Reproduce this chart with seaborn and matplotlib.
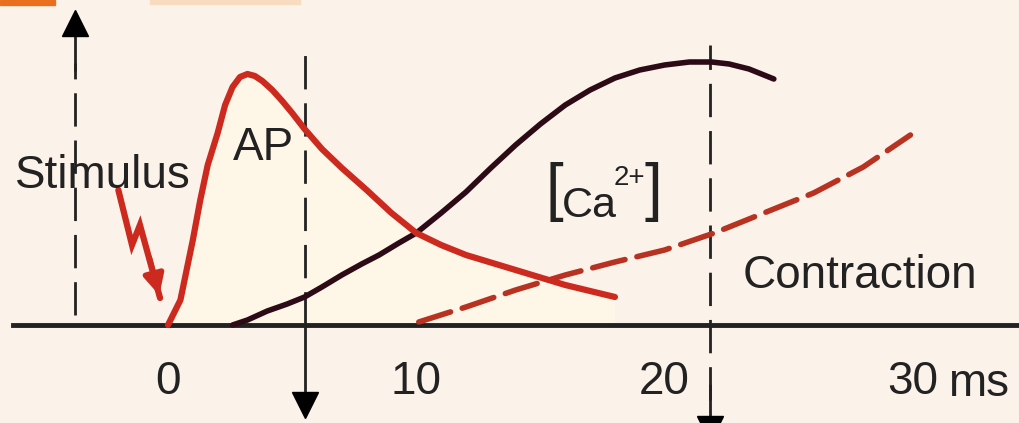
import numpy as np
import pandas as pd
import matplotlib.pyplot as plt
from matplotlib.patches import Rectangle
import seaborn as sns

# curves (time in ms, height in px above the baseline)
ap_t = [0, 0.5, 1.0, 1.3, 1.6, 2.0, 2.3, 2.6, 2.9, 3.2, 3.5, 3.8, 4.2, 4.6, 5.0, 5.5, 6.2, 7.0, 8.0, 9.0,
        10.0, 11.0, 12.0, 14.0, 16.0, 18.0]
ap_y = [0, 25, 85, 125, 160, 192, 220, 238, 248, 251, 249, 244, 235, 224, 212, 196, 176, 157, 135, 112,
        92, 80, 70, 55, 40, 28]

ca_t = [2.6, 3.2, 4.0, 4.8, 5.5, 6.2, 7.0, 7.8, 8.5, 9.3, 10.0, 11.0, 12.0, 13.0, 14.0, 15.0, 16.0, 17.0,
        18.0, 19.0, 20.0, 21.0, 21.9, 22.6, 23.4, 24.4]
ca_y = [0, 5, 14, 21, 28, 38, 50, 61, 70, 82, 92, 112, 133, 157, 180, 201, 220, 235, 247, 255, 260, 263,
        263, 261, 256, 246]

con_t = [10.1, 12.0, 14.0, 16.0, 18.0, 20.0, 22.0, 24.0, 26.0, 28.0, 29.9]
con_y = [3, 18, 35, 50, 63, 75, 92, 112, 132, 158, 190]

bolt_t = [-2.0, -1.45, -1.13, -0.32]
bolt_y = [135, 80, 100, 27]

tick_pos = [0, 10, 20, 30]
tick_labels = ["0", "10", "20", "30"]
marker_t = [-3.75, 5.52, 21.83]

bg = '#fbf2ea'
red = '#cc2a1e'
dark_red = '#b83222'
maroon = '#2c0b16'
ink = '#222222'

sns.set_theme(style='white')
plt.rcParams['font.family'] = ['Liberation Sans Narrow', 'Liberation Sans', 'DejaVu Sans']

fig = plt.figure(figsize=(10.19, 4.23), dpi=100, facecolor=bg)
ax = fig.add_axes([0, 0, 1, 1], facecolor=bg)
ax.set_xlim(-168 / 24.83, (1019 - 168) / 24.83)
ax.set_ylim(-98, 325)

# shading under the action potential
ax.fill_between(ap_t, ap_y, 0, color='#fef6e6', lw=0, zorder=1)

# vertical markers
ax.plot([marker_t[0]] * 2, [10, 262], color=ink, lw=2, dashes=(12, 5), zorder=2)
ax.plot([marker_t[0]] * 2, [255, 295], color=ink, lw=2, zorder=2)
ax.plot(marker_t[0], 302, marker='^', ms=19, color='black', zorder=3)

ax.plot([marker_t[1]] * 2, [0, 280], color=ink, lw=2, dashes=(12, 5), zorder=2)
ax.plot([marker_t[1]] * 2, [0, -75], color=ink, lw=2, zorder=2)
ax.plot(marker_t[1], -80, marker='v', ms=19, color='black', zorder=3)

ax.plot([marker_t[2]] * 2, [-75, 280], color=ink, lw=2, dashes=(12, 5), zorder=2)
ax.plot([marker_t[2]] * 2, [-60, -92], color=ink, lw=2, zorder=2)
ax.plot(marker_t[2], -104, marker='v', ms=19, color='black', zorder=3, clip_on=False)

# curves
sns.lineplot(x=ap_t, y=ap_y, ax=ax, color=red, lw=4.5, zorder=5, solid_capstyle='round')
sns.lineplot(x=ca_t, y=ca_y, ax=ax, color=maroon, lw=4, zorder=4, solid_capstyle='round')
sns.lineplot(x=con_t, y=con_y, ax=ax, color=dark_red, lw=4, zorder=4)
ax.lines[-1].set_dashes([6, 2.2])
ax.lines[-1].set_dash_capstyle('round')

# stimulus bolt
ax.plot(bolt_t, bolt_y, color=red, lw=4.5, zorder=5, solid_joinstyle='miter')
ax.annotate('', xy=(bolt_t[-1], bolt_y[-1]), xytext=(bolt_t[-2] + 0.35, bolt_y[-2] - 30),
            arrowprops=dict(arrowstyle='-|>', color=red, lw=4, mutation_scale=30), zorder=5)

# baseline axis
for side in ['top', 'left', 'right']:
    ax.spines[side].set_visible(False)
ax.spines['bottom'].set_position(('data', 0))
ax.spines['bottom'].set_bounds(-6.25, 34.4)
ax.spines['bottom'].set_linewidth(3.5)
ax.spines['bottom'].set_color(ink)
ax.spines['bottom'].set_zorder(3)
ax.set_xticks(tick_pos)
ax.set_xticklabels(tick_labels)
ax.set_yticks([])
ax.tick_params(axis='x', direction='out', length=14, width=2.2, color=ink,
               pad=11, labelsize=33, labelcolor=ink)

# labels
fs = 33
ax.text(-6.17, 137, "Stimulus", fontsize=fs, color=ink, va='baseline', ha='left', zorder=6)
ax.text(2.62, 165, "AP", fontsize=fs, color=ink, va='baseline', ha='left', zorder=6)
ax.text(23.15, 37, "Contraction", fontsize=fs, color=ink, va='baseline', ha='left', zorder=6)
ax.text(31.4, -71, "ms", fontsize=33, color=ink, va='baseline', ha='left', zorder=6)
ax.text(15.2, 133, "[", fontsize=46, color=ink, va='center', ha='left', zorder=6)
ax.text(15.85, 108, "Ca", fontsize=31, color=ink, va='baseline', ha='left', zorder=6)
ax.text(17.95, 140, "2+", fontsize=20, color=ink, va='baseline', ha='left', zorder=6)
ax.text(19.2, 133, "]", fontsize=46, color=ink, va='center', ha='left', zorder=6)

# cut-off header strip
fig.patches.append(Rectangle((0, 1 - 5 / 423), 55 / 1019, 5 / 423, transform=fig.transFigure,
                             color='#e8701e', zorder=0))
fig.patches.append(Rectangle((150 / 1019, 1 - 4 / 423), 150 / 1019, 4 / 423, transform=fig.transFigure,
                             color='#f8dcc0', zorder=0))

fig.savefig('out.png', dpi=100, facecolor=bg)
